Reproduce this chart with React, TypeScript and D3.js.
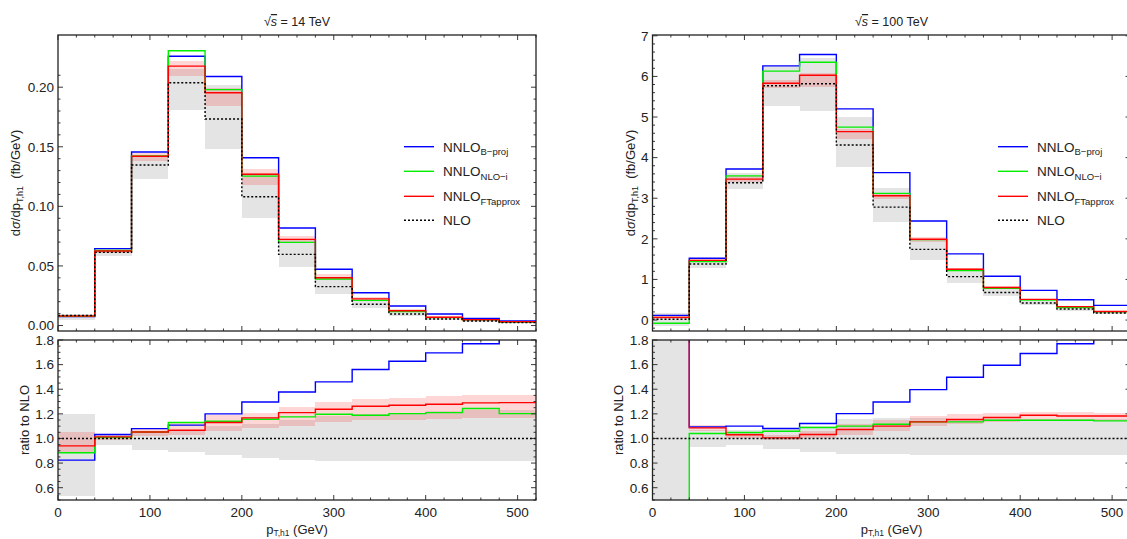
import React, { useEffect, useRef } from 'react';
import * as d3 from 'd3';

// bin lower edges in GeV (last bin ends at 520)
const binEdges = [0, 40, 80, 120, 160, 200, 240, 280, 320, 360, 400, 440, 480];
const ptMax = 520;

// sqrt(s) = 14 TeV, dsigma/dpT (fb/GeV)
const bproj14 = [0.0075, 0.0645, 0.1456, 0.226, 0.209, 0.1408, 0.0818, 0.0472, 0.0275, 0.0164, 0.0097, 0.006, 0.0038];
const nloi14 = [0.0078, 0.063, 0.1422, 0.2306, 0.198, 0.1254, 0.0698, 0.039, 0.0211, 0.0117, 0.0066, 0.0047, 0.0029];
const ftapprox14 = [0.008, 0.0625, 0.142, 0.2177, 0.1954, 0.127, 0.0723, 0.0401, 0.0224, 0.0124, 0.007, 0.0049, 0.0031];
const ftapproxLo14 = [0.0075, 0.061, 0.138, 0.209, 0.184, 0.118, 0.069, 0.038, 0.021, 0.0118, 0.0066, 0.0044, 0.0028];
const ftapproxHi14 = [0.0088, 0.0635, 0.145, 0.222, 0.199, 0.131, 0.075, 0.043, 0.024, 0.0135, 0.0076, 0.0052, 0.0033];
const nlo14 = [0.0084, 0.0614, 0.1347, 0.2037, 0.1733, 0.108, 0.0597, 0.0326, 0.0178, 0.0097, 0.0055, 0.0038, 0.0024];
const nloLo14 = [0.0045, 0.058, 0.1227, 0.181, 0.148, 0.0905, 0.0494, 0.0264, 0.0144, 0.0082, 0.0046, 0.0031, 0.002];
const nloHi14 = [0.01, 0.0645, 0.142, 0.215, 0.2018, 0.128, 0.072, 0.039, 0.0215, 0.0118, 0.0066, 0.0045, 0.0029];

// ratio to NLO, 14 TeV
const bprojRatio14 = [0.824, 1.032, 1.08, 1.108, 1.2, 1.296, 1.377, 1.46, 1.56, 1.627, 1.695, 1.77, 1.9];
const nloiRatio14 = [0.884, 1.008, 1.053, 1.13, 1.14, 1.156, 1.175, 1.197, 1.189, 1.202, 1.21, 1.243, 1.202];
const ftapproxRatio14 = [0.94, 1.013, 1.053, 1.067, 1.13, 1.167, 1.21, 1.237, 1.262, 1.27, 1.278, 1.289, 1.291];
const ftapproxRatioLo14 = [0.88, 0.99, 1.02, 1.027, 1.062, 1.089, 1.1, 1.134, 1.154, 1.154, 1.162, 1.17, 1.17];
const ftapproxRatioHi14 = [1.05, 1.035, 1.075, 1.134, 1.189, 1.207, 1.256, 1.296, 1.324, 1.332, 1.345, 1.351, 1.356];
const nloRatioLo14 = [0.535, 0.946, 0.91, 0.887, 0.865, 0.838, 0.824, 0.82, 0.818, 0.817, 0.816, 0.816, 0.816];
const nloRatioHi14 = [1.195, 1.035, 1.05, 1.07, 1.1, 1.12, 1.15, 1.18, 1.2, 1.21, 1.22, 1.23, 1.23];

// sqrt(s) = 100 TeV
const bproj100 = [0.115, 1.52, 3.72, 6.26, 6.54, 5.2, 3.63, 2.44, 1.63, 1.08, 0.73, 0.5, 0.36];
const nloi100 = [-0.08, 1.44, 3.55, 6.13, 6.35, 4.75, 3.12, 1.98, 1.22, 0.78, 0.49, 0.31, 0.2];
const ftapprox100 = [0.065, 1.47, 3.47, 5.83, 6.03, 4.64, 3.06, 1.99, 1.25, 0.8, 0.51, 0.33, 0.21];
const ftapproxLo100 = [0.02, 1.42, 3.4, 5.72, 5.75, 4.45, 2.97, 1.92, 1.2, 0.77, 0.49, 0.31, 0.2];
const ftapproxHi100 = [0.11, 1.52, 3.55, 5.92, 6.08, 4.7, 3.14, 2.04, 1.29, 0.84, 0.53, 0.35, 0.225];
const nlo100 = [0.02, 1.38, 3.38, 5.77, 5.82, 4.31, 2.78, 1.74, 1.07, 0.68, 0.42, 0.27, 0.175];
const nloLo100 = [-0.15, 1.27, 3.22, 5.28, 5.16, 3.78, 2.42, 1.49, 0.92, 0.58, 0.36, 0.23, 0.15];
const nloHi100 = [0.18, 1.48, 3.62, 6.25, 6.45, 4.99, 3.24, 2.0, 1.24, 0.78, 0.48, 0.31, 0.2];

// ratio to NLO, 100 TeV (first bin is off scale)
const bprojRatio100 = [5.0, 1.094, 1.1, 1.081, 1.121, 1.202, 1.296, 1.397, 1.497, 1.595, 1.69, 1.77, 1.9];
const nloiRatio100 = [-3.0, 1.04, 1.049, 1.059, 1.089, 1.1, 1.116, 1.135, 1.135, 1.148, 1.148, 1.148, 1.143];
const ftapproxRatio100 = [3.2, 1.086, 1.03, 1.005, 1.032, 1.073, 1.1, 1.135, 1.154, 1.17, 1.189, 1.183, 1.183];
const ftapproxRatioLo100 = [2.0, 1.06, 1.0, 0.985, 1.0, 1.03, 1.06, 1.1, 1.115, 1.13, 1.14, 1.14, 1.14];
const ftapproxRatioHi100 = [4.0, 1.11, 1.055, 1.03, 1.06, 1.12, 1.15, 1.18, 1.2, 1.21, 1.215, 1.212, 1.21];
const nloRatioLo100 = [0.2, 0.932, 0.946, 0.913, 0.887, 0.873, 0.87, 0.868, 0.866, 0.865, 0.865, 0.865, 0.865];
const nloRatioHi100 = [2.5, 1.07, 1.07, 1.08, 1.1, 1.16, 1.17, 1.17, 1.16, 1.16, 1.16, 1.16, 1.16];

const legendNames = ['B\u2212proj', 'NLO\u2212i', 'FTapprox', ''];
const colors = { bproj: '#0000ff', nloi: '#00ee00', ftapprox: '#ff0000', nlo: '#000000' };
const FONT = '"Liberation Sans", Arial, Helvetica, sans-serif';

const panels = [
  {
    id: 'p14', energy: '14 TeV', left: 58, right: 536,
    mainDomain: [-0.0046, 0.2438], mainMajor: 0.05, mainMinor: 0.01, mainMax: 0.2, fmt: d3.format('.2f'),
    main: { bproj: bproj14, nloi: nloi14, ft: ftapprox14, ftLo: ftapproxLo14, ftHi: ftapproxHi14, nlo: nlo14, nloLo: nloLo14, nloHi: nloHi14 },
    ratio: { bproj: bprojRatio14, nloi: nloiRatio14, ft: ftapproxRatio14, ftLo: ftapproxRatioLo14, ftHi: ftapproxRatioHi14, nloLo: nloRatioLo14, nloHi: nloRatioHi14 },
    yLabelX: 19.5, ratioLabelX: 28.5, legendX: 404,
  },
  {
    id: 'p100', energy: '100 TeV', left: 652.5, right: 1130.5,
    mainDomain: [-0.27, 7.02], mainMajor: 1, mainMinor: 0.2, mainMax: 7, fmt: d3.format('d'),
    main: { bproj: bproj100, nloi: nloi100, ft: ftapprox100, ftLo: ftapproxLo100, ftHi: ftapproxHi100, nlo: nlo100, nloLo: nloLo100, nloHi: nloHi100 },
    ratio: { bproj: bprojRatio100, nloi: nloiRatio100, ft: ftapproxRatio100, ftLo: ftapproxRatioLo100, ftHi: ftapproxRatioHi100, nloLo: nloRatioLo100, nloHi: nloRatioHi100 },
    yLabelX: 634.5, ratioLabelX: 623, legendX: 998,
  },
];

const mainTop = 35, mainBottom = 331, ratioTop = 340, ratioBottom = 500;

const steps = (from: number, to: number, step: number) =>
  d3.range(Math.round(from / step), Math.round(to / step) + 1).map(k => +(k * step).toFixed(6));

const App = () => {
  const ref = useRef<SVGSVGElement | null>(null);

  useEffect(() => {
    document.body.style.margin = '0';
    const svg = d3.select(ref.current);
    svg.selectAll('*').remove();
    const defs = svg.append('defs');

    const stepLine = (x: any, y: any, vals: number[]) =>
      d3.line<number[]>().x(d => x(d[0])).y(d => y(d[1])).curve(d3.curveStepAfter)(
        [...vals.map((v, i) => [binEdges[i], v]), [ptMax, vals[vals.length - 1]]]
      );

    const frame = (g: any, x: any, y: any, top: number, bottom: number, yMajor: number[], yMinor: number[]) => {
      const [l, r] = x.range();
      const xMajor = steps(0, 500, 100);
      const xMinor = steps(0, 520, 20);
      const tick = (x1: number, y1: number, x2: number, y2: number) =>
        g.append('line').attr('x1', x1).attr('y1', y1).attr('x2', x2).attr('y2', y2)
          .attr('stroke', '#222').attr('stroke-width', 0.9);
      xMinor.forEach(v => {
        const len = xMajor.includes(v) ? 5 : 2.5;
        tick(x(v), bottom, x(v), bottom - len);
        tick(x(v), top, x(v), top + len);
      });
      yMinor.forEach(v => {
        if (y(v) < top - 0.1 || y(v) > bottom + 0.1) return;
        const len = yMajor.includes(v) ? 5 : 2.5;
        tick(l, y(v), l + len, y(v));
        tick(r, y(v), r - len, y(v));
      });
      g.append('rect').attr('x', l).attr('y', top).attr('width', r - l).attr('height', bottom - top)
        .attr('fill', 'none').attr('stroke', '#222').attr('stroke-width', 1.3);
    };

    const drawBlock = (g: any, x: any, y: any, top: number, bottom: number, clipId: string, s: any, isRatio: boolean) => {
      const [l, r] = x.range();
      defs.append('clipPath').attr('id', clipId).append('rect')
        .attr('x', l).attr('y', top).attr('width', r - l).attr('height', bottom - top);
      const area = g.append('g').attr('clip-path', `url(#${clipId})`);
      const band = (lo: number[], hi: number[], fill: string, op: number) =>
        area.append('g').selectAll('rect').data(binEdges).join('rect')
          .attr('x', (d: number) => x(d))
          .attr('width', (d: number, i: number) => x(binEdges[i + 1] ?? ptMax) - x(d))
          .attr('y', (d: number, i: number) => y(hi[i]))
          .attr('height', (d: number, i: number) => y(lo[i]) - y(hi[i]))
          .attr('fill', fill).attr('fill-opacity', op).attr('shape-rendering', 'crispEdges');
      band(s.nloLo, s.nloHi, '#e4e4e4', 1);
      band(s.ftLo, s.ftHi, '#ff0000', 0.16);
      const path = (vals: number[], color: string, dash?: string) =>
        area.append('path').attr('d', stepLine(x, y, vals)).attr('fill', 'none')
          .attr('stroke', color).attr('stroke-width', 1.4).attr('stroke-dasharray', dash || null);
      path(s.bproj, colors.bproj);
      path(s.nloi, colors.nloi);
      path(s.ft, colors.ftapprox);
      if (isRatio) {
        area.append('line').attr('x1', l).attr('x2', r).attr('y1', y(1)).attr('y2', y(1))
          .attr('stroke', '#000').attr('stroke-width', 1.4).attr('stroke-dasharray', '2,2');
      } else {
        path(s.nlo, colors.nlo, '2,2');
      }
    };

    panels.forEach(p => {
      const g = svg.append('g').attr('font-family', FONT).attr('fill', '#222');
      const x = d3.scaleLinear().domain([0, ptMax]).range([p.left, p.right]);
      const yMain = d3.scaleLinear().domain(p.mainDomain).range([mainBottom, mainTop]);
      const yRatio = d3.scaleLinear().domain([0.5, 1.8]).range([ratioBottom, ratioTop]);

      drawBlock(g, x, yMain, mainTop, mainBottom, p.id + 'm', p.main, false);
      drawBlock(g, x, yRatio, ratioTop, ratioBottom, p.id + 'r', p.ratio, true);

      const mainMajor = steps(0, p.mainMax, p.mainMajor);
      frame(g, x, yMain, mainTop, mainBottom, mainMajor, steps(-0.4, p.mainMax + p.mainMinor, p.mainMinor));
      const ratioMajor = steps(0.6, 1.8, 0.2);
      frame(g, x, yRatio, ratioTop, ratioBottom, ratioMajor, steps(0.5, 1.8, 0.05));

      // tick labels
      g.selectAll('.ym').data(mainMajor).join('text').attr('class', 'ym')
        .attr('x', p.left - 4).attr('y', (d: number) => yMain(d)).attr('dy', '0.36em')
        .attr('text-anchor', 'end').attr('font-size', 13.5).text((d: number) => p.fmt(d));
      g.selectAll('.yr').data(ratioMajor).join('text').attr('class', 'yr')
        .attr('x', p.left - 4).attr('y', (d: number) => yRatio(d)).attr('dy', '0.36em')
        .attr('text-anchor', 'end').attr('font-size', 13.5).text((d: number) => d3.format('.1f')(d));
      g.selectAll('.xr').data(steps(0, 500, 100)).join('text').attr('class', 'xr')
        .attr('x', (d: number) => x(d)).attr('y', 516.5)
        .attr('text-anchor', 'middle').attr('font-size', 13.5).text((d: number) => d);

      // title
      const cx = (p.left + p.right) / 2;
      const t = g.append('text').attr('x', cx).attr('y', 26).attr('text-anchor', 'middle').attr('font-size', 12.5);
      t.append('tspan').text('\u221A');
      t.append('tspan').attr('font-style', 'italic').attr('text-decoration', 'overline').text('s');
      t.append('tspan').text(' = ' + p.energy);

      // axis titles
      const yl = g.append('text').attr('transform', `translate(${p.yLabelX},${(mainTop + mainBottom) / 2}) rotate(-90)`)
        .attr('text-anchor', 'middle').attr('font-size', 13);
      yl.append('tspan').text('d');
      yl.append('tspan').attr('font-style', 'italic').text('\u03C3');
      yl.append('tspan').text('/dp');
      yl.append('tspan').attr('font-size', 9).attr('dy', 3).text('T,h1');
      yl.append('tspan').attr('dy', -3).text('\u00A0\u00A0(fb/GeV)');

      g.append('text').attr('transform', `translate(${p.ratioLabelX},${(ratioTop + ratioBottom) / 2}) rotate(-90)`)
        .attr('text-anchor', 'middle').attr('font-size', 13).text('ratio to NLO');

      const xl = g.append('text').attr('x', cx).attr('y', 533.5).attr('text-anchor', 'middle').attr('font-size', 13);
      xl.append('tspan').text('p');
      xl.append('tspan').attr('font-size', 8.5).attr('dy', 2.5).text('T,h1');
      xl.append('tspan').attr('dy', -2.5).text('\u00A0(GeV)');

      // legend
      const legColors = [colors.bproj, colors.nloi, colors.ftapprox, colors.nlo];
      const rows = [146.7, 171.3, 196.3, 220.3];
      legendNames.forEach((name, i) => {
        g.append('line').attr('x1', p.legendX).attr('x2', p.legendX + 30).attr('y1', rows[i]).attr('y2', rows[i])
          .attr('stroke', legColors[i]).attr('stroke-width', 1.4).attr('stroke-dasharray', i === 3 ? '2,2' : null);
        const lt = g.append('text').attr('x', p.legendX + 39).attr('y', rows[i] + 5).attr('font-size', 13.5);
        lt.append('tspan').text(i === 3 ? 'NLO' : 'NNLO');
        if (name) lt.append('tspan').attr('font-size', 9.5).attr('dy', 3.5).text(name);
      });
    });
  }, []);

  return (
    <svg ref={ref} width={1127} height={539}
      style={{ display: 'block', position: 'absolute', left: 0, top: 0, background: '#fff' }} />
  );
};

export default App;
